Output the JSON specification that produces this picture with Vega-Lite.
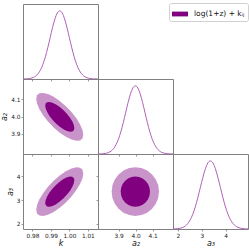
{
"$schema": "https://vega.github.io/schema/vega-lite/v6.json",
"padding": {"left": 0, "top": 2, "right": 0, "bottom": 0},
"spacing": 0,
"bounds": "flush",
"columns": 3,
"config": {
  "font": "DejaVu Sans",
  "view": {"stroke": "#808080", "strokeWidth": 1},
  "concat": {"spacing": 0},
  "axis": {"domain": false, "grid": false, "tickColor": "#808080", "tickSize": 2, "tickWidth": 0.8, "labelFontSize": 5.8, "labelColor": "#222222", "labelFont": "DejaVu Sans", "labelOverlap": false, "titleFont": "DejaVu Sans", "titleFontStyle": "italic", "titleFontSize": 8, "titleFontWeight": "normal", "titleColor": "#111111", "labelPadding": 1, "titlePadding": 2, "labelFlush": false}
},
"datasets": {
"k1d": [
{"k":0.9749,"p":0.0006},{"k":0.9766,"p":0.0022},{"k":0.9779,"p":0.0051},{"k":0.9792,"p":0.0111},{"k":0.9805,"p":0.0228},{"k":0.9818,"p":0.0439},{"k":0.9831,"p":0.0796},{"k":0.9844,"p":0.1353},{"k":0.9857,"p":0.2163},{"k":0.9870,"p":0.3247},{"k":0.9883,"p":0.4578},{"k":0.9896,"p":0.6065},{"k":0.9909,"p":0.7548},{"k":0.9922,"p":0.8825},{"k":0.9935,"p":0.9692},{"k":0.9948,"p":1.0},{"k":0.9961,"p":0.9692},{"k":0.9974,"p":0.8825},{"k":0.9987,"p":0.7548},{"k":1.0000,"p":0.6065},{"k":1.0013,"p":0.4578},{"k":1.0026,"p":0.3247},{"k":1.0039,"p":0.2163},{"k":1.0052,"p":0.1353},{"k":1.0065,"p":0.0796},{"k":1.0078,"p":0.0439},{"k":1.0091,"p":0.0228},{"k":1.0104,"p":0.0111},{"k":1.0117,"p":0.0051},{"k":1.0130,"p":0.0022},{"k":1.0155,"p":0.0004}
],
"a21d": [
{"a2":3.778,"p":0.0006},{"a2":3.7985,"p":0.0022},{"a2":3.8128,"p":0.0051},{"a2":3.827,"p":0.0111},{"a2":3.8413,"p":0.0228},{"a2":3.8555,"p":0.0439},{"a2":3.8698,"p":0.0796},{"a2":3.884,"p":0.1353},{"a2":3.8983,"p":0.2163},{"a2":3.9125,"p":0.3247},{"a2":3.9268,"p":0.4578},{"a2":3.941,"p":0.6065},{"a2":3.9553,"p":0.7548},{"a2":3.9695,"p":0.8825},{"a2":3.9838,"p":0.9692},{"a2":3.998,"p":1.0},{"a2":4.0123,"p":0.9692},{"a2":4.0265,"p":0.8825},{"a2":4.0408,"p":0.7548},{"a2":4.055,"p":0.6065},{"a2":4.0693,"p":0.4578},{"a2":4.0835,"p":0.3247},{"a2":4.0978,"p":0.2163},{"a2":4.112,"p":0.1353},{"a2":4.1263,"p":0.0796},{"a2":4.1405,"p":0.0439},{"a2":4.1548,"p":0.0228},{"a2":4.169,"p":0.0111},{"a2":4.1833,"p":0.0051},{"a2":4.1975,"p":0.0022},{"a2":4.22,"p":0.0005}
],
"a31d": [
{"a3":1.8,"p":0.001},{"a3":1.89,"p":0.0022},{"a3":1.995,"p":0.0051},{"a3":2.1,"p":0.0111},{"a3":2.205,"p":0.0228},{"a3":2.31,"p":0.0439},{"a3":2.415,"p":0.0796},{"a3":2.52,"p":0.1353},{"a3":2.625,"p":0.2163},{"a3":2.73,"p":0.3247},{"a3":2.835,"p":0.4578},{"a3":2.94,"p":0.6065},{"a3":3.045,"p":0.7548},{"a3":3.15,"p":0.8825},{"a3":3.255,"p":0.9692},{"a3":3.36,"p":1.0},{"a3":3.465,"p":0.9692},{"a3":3.57,"p":0.8825},{"a3":3.675,"p":0.7548},{"a3":3.78,"p":0.6065},{"a3":3.885,"p":0.4578},{"a3":3.99,"p":0.3247},{"a3":4.095,"p":0.2163},{"a3":4.2,"p":0.1353},{"a3":4.305,"p":0.0796},{"a3":4.41,"p":0.0439},{"a3":4.515,"p":0.0228},{"a3":4.62,"p":0.0111},{"a3":4.725,"p":0.0051},{"a3":4.83,"p":0.0022},{"a3":4.93,"p":0.0009}
],
"ka2": [
{"level":"95","i":0,"k":0.98207,"a2":4.1027},{"level":"95","i":1,"k":0.98250,"a2":4.1230},{"level":"95","i":2,"k":0.98378,"a2":4.1348},{"level":"95","i":3,"k":0.98580,"a2":4.1373},{"level":"95","i":4,"k":0.98844,"a2":4.1303},{"level":"95","i":5,"k":0.99150,"a2":4.1142},{"level":"95","i":6,"k":0.99480,"a2":4.0903},{"level":"95","i":7,"k":0.99810,"a2":4.0601},{"level":"95","i":8,"k":1.00117,"a2":4.0256},{"level":"95","i":9,"k":1.00380,"a2":3.9893},{"level":"95","i":10,"k":1.00582,"a2":3.9535},{"level":"95","i":11,"k":1.00710,"a2":3.9208},{"level":"95","i":12,"k":1.00753,"a2":3.8933},{"level":"95","i":13,"k":1.00710,"a2":3.8730},{"level":"95","i":14,"k":1.00582,"a2":3.8612},{"level":"95","i":15,"k":1.00380,"a2":3.8587},{"level":"95","i":16,"k":1.00117,"a2":3.8657},{"level":"95","i":17,"k":0.99810,"a2":3.8818},{"level":"95","i":18,"k":0.99480,"a2":3.9057},{"level":"95","i":19,"k":0.99150,"a2":3.9359},{"level":"95","i":20,"k":0.98844,"a2":3.9704},{"level":"95","i":21,"k":0.98580,"a2":4.0067},{"level":"95","i":22,"k":0.98378,"a2":4.0425},{"level":"95","i":23,"k":0.98250,"a2":4.0752},
{"level":"68","i":0,"k":0.98692,"a2":4.0628},{"level":"68","i":1,"k":0.98719,"a2":4.0753},{"level":"68","i":2,"k":0.98798,"a2":4.0827},{"level":"68","i":3,"k":0.98923,"a2":4.0842},{"level":"68","i":4,"k":0.99086,"a2":4.0799},{"level":"68","i":5,"k":0.99276,"a2":4.0699},{"level":"68","i":6,"k":0.99480,"a2":4.0551},{"level":"68","i":7,"k":0.99684,"a2":4.0364},{"level":"68","i":8,"k":0.99874,"a2":4.0151},{"level":"68","i":9,"k":1.00037,"a2":3.9926},{"level":"68","i":10,"k":1.00162,"a2":3.9705},{"level":"68","i":11,"k":1.00241,"a2":3.9502},{"level":"68","i":12,"k":1.00268,"a2":3.9332},{"level":"68","i":13,"k":1.00241,"a2":3.9207},{"level":"68","i":14,"k":1.00162,"a2":3.9134},{"level":"68","i":15,"k":1.00037,"a2":3.9118},{"level":"68","i":16,"k":0.99874,"a2":3.9162},{"level":"68","i":17,"k":0.99684,"a2":3.9261},{"level":"68","i":18,"k":0.99480,"a2":3.9409},{"level":"68","i":19,"k":0.99276,"a2":3.9596},{"level":"68","i":20,"k":0.99086,"a2":3.9809},{"level":"68","i":21,"k":0.98923,"a2":4.0034},{"level":"68","i":22,"k":0.98798,"a2":4.0255},{"level":"68","i":23,"k":0.98719,"a2":4.0458}
],
"ka3": [
{"level":"95","i":0,"k":1.00753,"a3":4.1311},{"level":"95","i":1,"k":1.00710,"a3":4.2808},{"level":"95","i":2,"k":1.00582,"a3":4.3678},{"level":"95","i":3,"k":1.00380,"a3":4.3861},{"level":"95","i":4,"k":1.00117,"a3":4.3345},{"level":"95","i":5,"k":0.99810,"a3":4.2165},{"level":"95","i":6,"k":0.99480,"a3":4.0400},{"level":"95","i":7,"k":0.99150,"a3":3.8173},{"level":"95","i":8,"k":0.98844,"a3":3.5634},{"level":"95","i":9,"k":0.98580,"a3":3.2956},{"level":"95","i":10,"k":0.98378,"a3":3.0322},{"level":"95","i":11,"k":0.98250,"a3":2.7912},{"level":"95","i":12,"k":0.98207,"a3":2.5889},{"level":"95","i":13,"k":0.98250,"a3":2.4392},{"level":"95","i":14,"k":0.98378,"a3":2.3522},{"level":"95","i":15,"k":0.98580,"a3":2.3339},{"level":"95","i":16,"k":0.98844,"a3":2.3855},{"level":"95","i":17,"k":0.99150,"a3":2.5035},{"level":"95","i":18,"k":0.99480,"a3":2.6800},{"level":"95","i":19,"k":0.99810,"a3":2.9027},{"level":"95","i":20,"k":1.00117,"a3":3.1566},{"level":"95","i":21,"k":1.00380,"a3":3.4244},{"level":"95","i":22,"k":1.00582,"a3":3.6878},{"level":"95","i":23,"k":1.00710,"a3":3.9288},
{"level":"68","i":0,"k":1.00268,"a3":3.8372},{"level":"68","i":1,"k":1.00241,"a3":3.9299},{"level":"68","i":2,"k":1.00162,"a3":3.9837},{"level":"68","i":3,"k":1.00037,"a3":3.9950},{"level":"68","i":4,"k":0.99874,"a3":3.9631},{"level":"68","i":5,"k":0.99684,"a3":3.8900},{"level":"68","i":6,"k":0.99480,"a3":3.7809},{"level":"68","i":7,"k":0.99276,"a3":3.6430},{"level":"68","i":8,"k":0.99086,"a3":3.4859},{"level":"68","i":9,"k":0.98923,"a3":3.3202},{"level":"68","i":10,"k":0.98798,"a3":3.1571},{"level":"68","i":11,"k":0.98719,"a3":3.0080},{"level":"68","i":12,"k":0.98692,"a3":2.8828},{"level":"68","i":13,"k":0.98719,"a3":2.7901},{"level":"68","i":14,"k":0.98798,"a3":2.7363},{"level":"68","i":15,"k":0.98923,"a3":2.7250},{"level":"68","i":16,"k":0.99086,"a3":2.7569},{"level":"68","i":17,"k":0.99276,"a3":2.8300},{"level":"68","i":18,"k":0.99480,"a3":2.9391},{"level":"68","i":19,"k":0.99684,"a3":3.0770},{"level":"68","i":20,"k":0.99874,"a3":3.2341},{"level":"68","i":21,"k":1.00037,"a3":3.3998},{"level":"68","i":22,"k":1.00162,"a3":3.5629},{"level":"68","i":23,"k":1.00241,"a3":3.7120}
],
"a2a3": [
{"level":"95","i":0,"a2":4.1375,"a3":3.3600},{"level":"95","i":1,"a2":4.1328,"a3":3.6261},{"level":"95","i":2,"a2":4.1188,"a3":3.8741},{"level":"95","i":3,"a2":4.0967,"a3":4.0870},{"level":"95","i":4,"a2":4.0678,"a3":4.2504},{"level":"95","i":5,"a2":4.0341,"a3":4.3531},{"level":"95","i":6,"a2":3.9980,"a3":4.3882},{"level":"95","i":7,"a2":3.9619,"a3":4.3531},{"level":"95","i":8,"a2":3.9282,"a3":4.2504},{"level":"95","i":9,"a2":3.8993,"a3":4.0870},{"level":"95","i":10,"a2":3.8772,"a3":3.8741},{"level":"95","i":11,"a2":3.8632,"a3":3.6261},{"level":"95","i":12,"a2":3.8585,"a3":3.3600},{"level":"95","i":13,"a2":3.8632,"a3":3.0939},{"level":"95","i":14,"a2":3.8772,"a3":2.8459},{"level":"95","i":15,"a2":3.8993,"a3":2.6330},{"level":"95","i":16,"a2":3.9282,"a3":2.4696},{"level":"95","i":17,"a2":3.9619,"a3":2.3669},{"level":"95","i":18,"a2":3.9980,"a3":2.3318},{"level":"95","i":19,"a2":4.0341,"a3":2.3669},{"level":"95","i":20,"a2":4.0678,"a3":2.4696},{"level":"95","i":21,"a2":4.0967,"a3":2.6330},{"level":"95","i":22,"a2":4.1188,"a3":2.8459},{"level":"95","i":23,"a2":4.1328,"a3":3.0939},
{"level":"68","i":0,"a2":4.0844,"a3":3.3600},{"level":"68","i":1,"a2":4.0814,"a3":3.5247},{"level":"68","i":2,"a2":4.0728,"a3":3.6782},{"level":"68","i":3,"a2":4.0591,"a3":3.8099},{"level":"68","i":4,"a2":4.0412,"a3":3.9110},{"level":"68","i":5,"a2":4.0204,"a3":3.9746},{"level":"68","i":6,"a2":3.9980,"a3":3.9963},{"level":"68","i":7,"a2":3.9757,"a3":3.9746},{"level":"68","i":8,"a2":3.9548,"a3":3.9110},{"level":"68","i":9,"a2":3.9369,"a3":3.8099},{"level":"68","i":10,"a2":3.9232,"a3":3.6782},{"level":"68","i":11,"a2":3.9146,"a3":3.5247},{"level":"68","i":12,"a2":3.9116,"a3":3.3600},{"level":"68","i":13,"a2":3.9146,"a3":3.1953},{"level":"68","i":14,"a2":3.9232,"a3":3.0418},{"level":"68","i":15,"a2":3.9369,"a3":2.9101},{"level":"68","i":16,"a2":3.9548,"a3":2.8090},{"level":"68","i":17,"a2":3.9757,"a3":2.7454},{"level":"68","i":18,"a2":3.9980,"a3":2.7237},{"level":"68","i":19,"a2":4.0204,"a3":2.7454},{"level":"68","i":20,"a2":4.0412,"a3":2.8090},{"level":"68","i":21,"a2":4.0591,"a3":2.9101},{"level":"68","i":22,"a2":4.0728,"a3":3.0418},{"level":"68","i":23,"a2":4.0814,"a3":3.1953}
]
},
"concat": [
  {"width": 75, "height": 75, "data": {"name": "k1d"},
   "mark": {"type": "line", "color": "#b060b8", "strokeWidth": 1, "interpolate": "monotone"},
   "encoding": {
    "x": {"field": "k", "type": "quantitative", "scale": {"domain": [0.9749, 1.0155], "nice": false, "zero": false}, "axis": {"values": [0.98, 0.99, 1.0, 1.01], "labels": false, "title": null}},
    "y": {"field": "p", "type": "quantitative", "scale": {"domain": [0, 1.1], "nice": false}, "axis": null}
   }},
  {"width": 75, "height": 75, "view": {"stroke": null}, "data": {"values": [{"t": ""}]},
   "mark": {"type": "text", "opacity": 0}, "encoding": {"text": {"field": "t"}}},
  {"width": 75, "height": 75, "view": {"stroke": null}, "data": {"values": [{"t": ""}]},
   "mark": {"type": "text", "opacity": 0}, "encoding": {"text": {"field": "t"}}},
  {"width": 75, "height": 75, "data": {"name": "ka2"},
   "encoding": {
    "x": {"field": "k", "type": "quantitative", "scale": {"domain": [0.9749, 1.0155], "nice": false, "zero": false}, "axis": {"values": [0.98, 0.99, 1.0, 1.01], "labels": false, "title": null}},
    "y": {"field": "a2", "type": "quantitative", "scale": {"domain": [3.782, 4.218], "nice": false, "zero": false}, "axis": {"values": [3.9, 4.0, 4.1], "format": ".1f", "title": "a₂", "labelOverlap": false}},
    "order": {"field": "i", "type": "quantitative"}
   },
   "layer": [
    {"transform": [{"filter": "datum.level == '95'"}],
     "mark": {"type": "line", "fill": "#c994c9", "strokeWidth": 0, "strokeOpacity": 0}},
    {"transform": [{"filter": "datum.level == '68'"}],
     "mark": {"type": "line", "strokeWidth": 0, "strokeOpacity": 0},
     "encoding": {
      "fill": {"datum": "log(1+z) + kᵢⱼ", "type": "nominal", "scale": {"range": ["#800080"]},
        "legend": {"title": null, "orient": "none", "legendX": 146, "legendY": -1, "symbolType": "M-1,-0.3H1V0.3H-1Z", "symbolSize": 256, "symbolStrokeWidth": 0, "labelFontSize": 7.5, "labelFont": "DejaVu Sans", "labelColor": "#111111", "padding": 3, "strokeColor": "#d0d0d0", "fillColor": "white", "cornerRadius": 2, "labelOffset": 6}}
     }}
   ]},
  {"width": 75, "height": 75, "data": {"name": "a21d"},
   "mark": {"type": "line", "color": "#b060b8", "strokeWidth": 1, "interpolate": "monotone"},
   "encoding": {
    "x": {"field": "a2", "type": "quantitative", "scale": {"domain": [3.778, 4.22], "nice": false, "zero": false}, "axis": {"values": [3.9, 4.0, 4.1], "labels": false, "title": null}},
    "y": {"field": "p", "type": "quantitative", "scale": {"domain": [0, 1.1], "nice": false}, "axis": null}
   }},
  {"width": 75, "height": 75, "view": {"stroke": null}, "data": {"values": [{"t": ""}]},
   "mark": {"type": "text", "opacity": 0}, "encoding": {"text": {"field": "t"}}},
  {"width": 75, "height": 75, "data": {"name": "ka3"},
   "encoding": {
    "x": {"field": "k", "type": "quantitative", "scale": {"domain": [0.9749, 1.0155], "nice": false, "zero": false}, "axis": {"values": [0.98, 0.99, 1.0, 1.01], "format": ".2f", "title": "k", "labelOverlap": false}},
    "y": {"field": "a3", "type": "quantitative", "scale": {"domain": [1.78, 4.95], "nice": false, "zero": false}, "axis": {"values": [2, 3, 4], "format": "d", "title": "a₃", "labelOverlap": false}},
    "order": {"field": "i", "type": "quantitative"}
   },
   "layer": [
    {"transform": [{"filter": "datum.level == '95'"}],
     "mark": {"type": "line", "fill": "#c994c9", "strokeWidth": 0, "strokeOpacity": 0}},
    {"transform": [{"filter": "datum.level == '68'"}],
     "mark": {"type": "line", "fill": "#800080", "strokeWidth": 0, "strokeOpacity": 0}}
   ]},
  {"width": 75, "height": 75, "data": {"name": "a2a3"},
   "encoding": {
    "x": {"field": "a2", "type": "quantitative", "scale": {"domain": [3.778, 4.22], "nice": false, "zero": false}, "axis": {"values": [3.9, 4.0, 4.1], "format": ".1f", "title": "a₂", "labelOverlap": false}},
    "y": {"field": "a3", "type": "quantitative", "scale": {"domain": [1.78, 4.95], "nice": false, "zero": false}, "axis": {"values": [2, 3, 4], "labels": false, "title": null}},
    "order": {"field": "i", "type": "quantitative"}
   },
   "layer": [
    {"transform": [{"filter": "datum.level == '95'"}],
     "mark": {"type": "line", "fill": "#c994c9", "strokeWidth": 0, "strokeOpacity": 0}},
    {"transform": [{"filter": "datum.level == '68'"}],
     "mark": {"type": "line", "fill": "#800080", "strokeWidth": 0, "strokeOpacity": 0}}
   ]},
  {"width": 75, "height": 75, "data": {"name": "a31d"},
   "mark": {"type": "line", "color": "#b060b8", "strokeWidth": 1, "interpolate": "monotone"},
   "encoding": {
    "x": {"field": "a3", "type": "quantitative", "scale": {"domain": [1.8, 4.93], "nice": false, "zero": false}, "axis": {"values": [2, 3, 4], "format": "d", "title": "a₃", "labelOverlap": false}},
    "y": {"field": "p", "type": "quantitative", "scale": {"domain": [0, 1.1], "nice": false}, "axis": null}
   }}
]
}
